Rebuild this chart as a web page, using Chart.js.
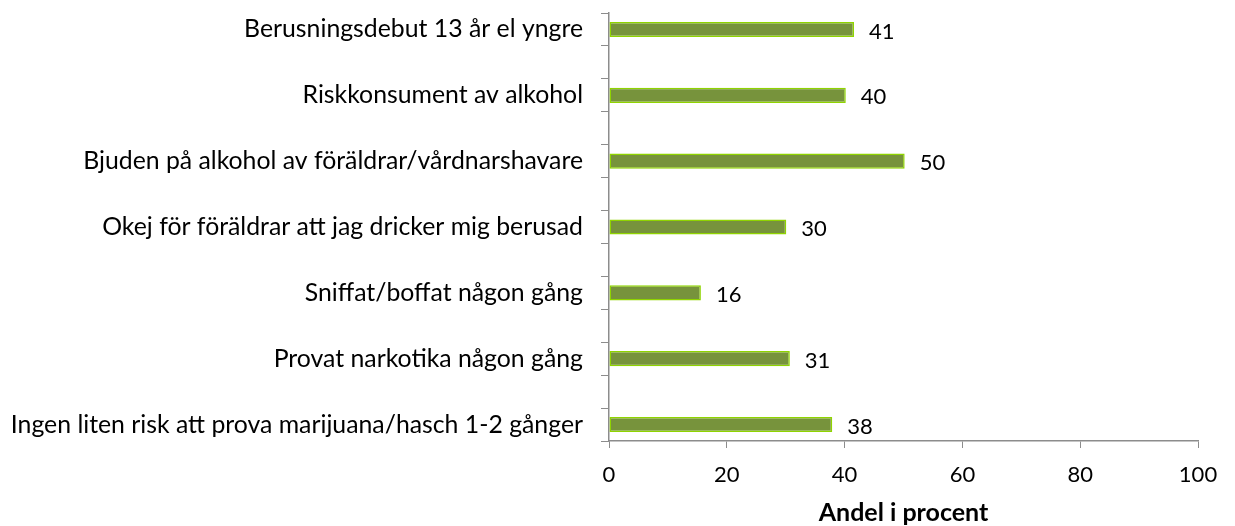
<!DOCTYPE html>
<html><head><meta charset="utf-8">
<script src="https://cdn.jsdelivr.net/npm/chart.js@4/dist/chart.umd.min.js"></script>
<style>html,body{margin:0;padding:0;background:#fff}#wrap{width:1235px;height:526px}</style>
</head><body><div id="wrap"><canvas id="c" width="1235" height="526"></canvas></div>
<script>
const categories = [
  "Berusningsdebut 13 år el yngre", "",
  "Riskkonsument av alkohol", "",
  "Bjuden på alkohol av föräldrar/vårdnarshavare", "",
  "Okej för föräldrar att jag dricker mig berusad", "",
  "Sniffat/boffat någon gång", "",
  "Provat narkotika någon gång", "",
  "Ingen liten risk att prova marijuana/hasch 1-2 gånger"
];
const values = [41.6, null, 40.2, null, 50.2, null, 30.1, null, 15.6, null, 30.7, null, 37.9];
const valueLabels = ["41", "", "40", "", "50", "", "30", "", "16", "", "31", "", "38"];
const xTicks = [0, 20, 40, 60, 80, 100];
const axisTitle = "Andel i procent";

const FONT = "Lato, 'Open Sans', sans-serif";
const AXIS = "#8c8c8c";

const labelPlugin = {
  id: 'vlabels',
  afterDatasetsDraw(chart) {
    const ctx = chart.ctx;
    const meta = chart.getDatasetMeta(0);
    ctx.save();
    ctx.font = "22px " + FONT;
    ctx.fillStyle = "#000";
    ctx.textBaseline = "middle";
    ctx.textAlign = "left";
    meta.data.forEach((el, i) => {
      if (values[i] == null) return;
      ctx.fillText(valueLabels[i], el.x + 15, el.y + 2);
    });
    ctx.restore();
  }
};

new Chart(document.getElementById('c'), {
  type: 'bar',
  data: {
    labels: categories,
    datasets: [{
      data: values,
      backgroundColor: '#77933C',
      borderColor: '#8FD400',
      borderWidth: 1.5,
      borderSkipped: false,
      categoryPercentage: 1,
      barPercentage: 0.46
    }]
  },
  options: {
    indexAxis: 'y',
    responsive: false,
    animation: false,
    layout: { padding: { top: 0, right: 37, left: 0, bottom: 0 } },
    plugins: { legend: { display: false }, tooltip: { enabled: false } },
    scales: {
      x: {
        min: 0, max: 100,
        afterBuildTicks(scale) { scale.ticks = xTicks.map(v => ({ value: v })); },
        afterFit(scale) { scale.height = 85; },
        grid: { display: true, drawOnChartArea: false, drawTicks: true, tickLength: 7, color: AXIS, tickColor: AXIS },
        border: { display: true, color: AXIS, width: 1.5 },
        ticks: { font: { family: FONT, size: 22 }, color: '#000', padding: 14 },
        title: { display: true, text: axisTitle, font: { family: FONT, size: 25, weight: 'bold' }, color: '#000', padding: { top: 16, bottom: -2 } }
      },
      y: {
        afterFit(scale) { scale.width = 609; scale.paddingTop = 13; scale.paddingBottom = 0; },
        grid: { display: true, drawOnChartArea: false, drawTicks: true, tickLength: 8, color: AXIS, tickColor: AXIS, offset: true },
        border: { display: true, color: AXIS, width: 1.5 },
        ticks: { font: { family: FONT, size: 24.8 }, color: '#000', padding: 18, autoSkip: false }
      }
    }
  },
  plugins: [labelPlugin]
});
</script></body></html>
